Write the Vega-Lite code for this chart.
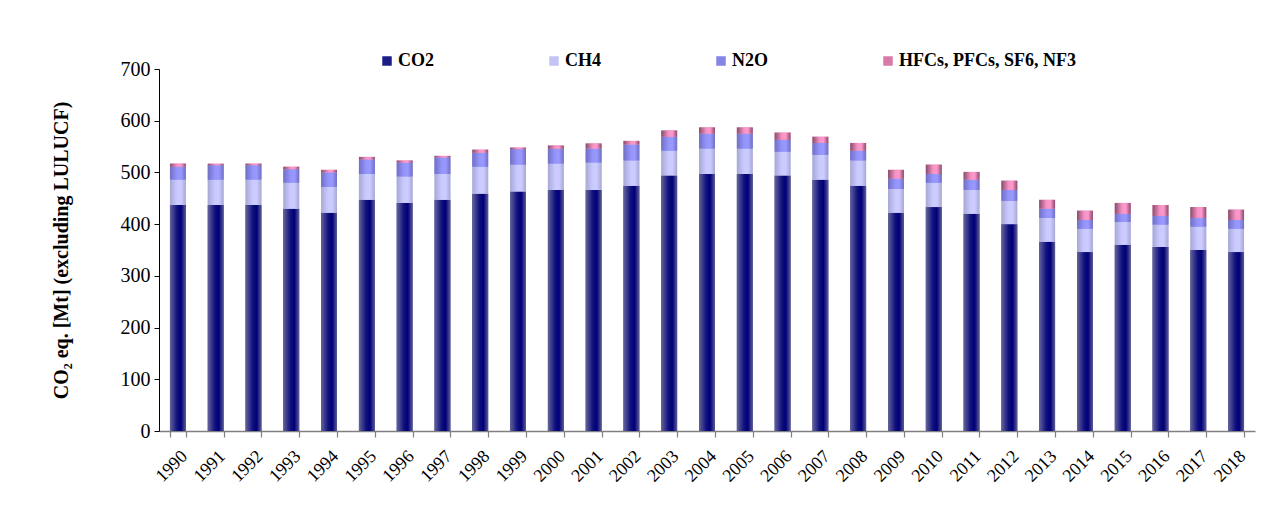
{
  "$schema": "https://vega.github.io/schema/vega-lite/v6.json",
  "autosize": "none",
  "width": 1096,
  "height": 362,
  "padding": {"left": 159, "top": 69, "right": 28, "bottom": 74},
  "background": "white",
  "config": {
    "view": {"stroke": null},
    "font": "Liberation Serif"
  },
  "data": {
    "values": [
      {"year":"1990","gas":"CO2","order":1,"value":437},{"year":"1990","gas":"CH4","order":2,"value":49},{"year":"1990","gas":"N2O","order":3,"value":25},{"year":"1990","gas":"HFCs, PFCs, SF6, NF3","order":4,"value":6},
      {"year":"1991","gas":"CO2","order":1,"value":437},{"year":"1991","gas":"CH4","order":2,"value":49},{"year":"1991","gas":"N2O","order":3,"value":28},{"year":"1991","gas":"HFCs, PFCs, SF6, NF3","order":4,"value":3},
      {"year":"1992","gas":"CO2","order":1,"value":437},{"year":"1992","gas":"CH4","order":2,"value":49},{"year":"1992","gas":"N2O","order":3,"value":28},{"year":"1992","gas":"HFCs, PFCs, SF6, NF3","order":4,"value":3},
      {"year":"1993","gas":"CO2","order":1,"value":430},{"year":"1993","gas":"CH4","order":2,"value":50},{"year":"1993","gas":"N2O","order":3,"value":26},{"year":"1993","gas":"HFCs, PFCs, SF6, NF3","order":4,"value":5},
      {"year":"1994","gas":"CO2","order":1,"value":422},{"year":"1994","gas":"CH4","order":2,"value":50},{"year":"1994","gas":"N2O","order":3,"value":28},{"year":"1994","gas":"HFCs, PFCs, SF6, NF3","order":4,"value":5},
      {"year":"1995","gas":"CO2","order":1,"value":447},{"year":"1995","gas":"CH4","order":2,"value":50},{"year":"1995","gas":"N2O","order":3,"value":28},{"year":"1995","gas":"HFCs, PFCs, SF6, NF3","order":4,"value":5},
      {"year":"1996","gas":"CO2","order":1,"value":441},{"year":"1996","gas":"CH4","order":2,"value":51},{"year":"1996","gas":"N2O","order":3,"value":27},{"year":"1996","gas":"HFCs, PFCs, SF6, NF3","order":4,"value":4},
      {"year":"1997","gas":"CO2","order":1,"value":447},{"year":"1997","gas":"CH4","order":2,"value":50},{"year":"1997","gas":"N2O","order":3,"value":32},{"year":"1997","gas":"HFCs, PFCs, SF6, NF3","order":4,"value":3},
      {"year":"1998","gas":"CO2","order":1,"value":459},{"year":"1998","gas":"CH4","order":2,"value":52},{"year":"1998","gas":"N2O","order":3,"value":27},{"year":"1998","gas":"HFCs, PFCs, SF6, NF3","order":4,"value":6},
      {"year":"1999","gas":"CO2","order":1,"value":463},{"year":"1999","gas":"CH4","order":2,"value":52},{"year":"1999","gas":"N2O","order":3,"value":30},{"year":"1999","gas":"HFCs, PFCs, SF6, NF3","order":4,"value":3},
      {"year":"2000","gas":"CO2","order":1,"value":466},{"year":"2000","gas":"CH4","order":2,"value":51},{"year":"2000","gas":"N2O","order":3,"value":29},{"year":"2000","gas":"HFCs, PFCs, SF6, NF3","order":4,"value":6},
      {"year":"2001","gas":"CO2","order":1,"value":466},{"year":"2001","gas":"CH4","order":2,"value":53},{"year":"2001","gas":"N2O","order":3,"value":27},{"year":"2001","gas":"HFCs, PFCs, SF6, NF3","order":4,"value":10},
      {"year":"2002","gas":"CO2","order":1,"value":474},{"year":"2002","gas":"CH4","order":2,"value":49},{"year":"2002","gas":"N2O","order":3,"value":31},{"year":"2002","gas":"HFCs, PFCs, SF6, NF3","order":4,"value":7},
      {"year":"2003","gas":"CO2","order":1,"value":494},{"year":"2003","gas":"CH4","order":2,"value":48},{"year":"2003","gas":"N2O","order":3,"value":27},{"year":"2003","gas":"HFCs, PFCs, SF6, NF3","order":4,"value":12},
      {"year":"2004","gas":"CO2","order":1,"value":497},{"year":"2004","gas":"CH4","order":2,"value":49},{"year":"2004","gas":"N2O","order":3,"value":29},{"year":"2004","gas":"HFCs, PFCs, SF6, NF3","order":4,"value":12},
      {"year":"2005","gas":"CO2","order":1,"value":497},{"year":"2005","gas":"CH4","order":2,"value":49},{"year":"2005","gas":"N2O","order":3,"value":29},{"year":"2005","gas":"HFCs, PFCs, SF6, NF3","order":4,"value":12},
      {"year":"2006","gas":"CO2","order":1,"value":494},{"year":"2006","gas":"CH4","order":2,"value":46},{"year":"2006","gas":"N2O","order":3,"value":23},{"year":"2006","gas":"HFCs, PFCs, SF6, NF3","order":4,"value":14},
      {"year":"2007","gas":"CO2","order":1,"value":486},{"year":"2007","gas":"CH4","order":2,"value":48},{"year":"2007","gas":"N2O","order":3,"value":23},{"year":"2007","gas":"HFCs, PFCs, SF6, NF3","order":4,"value":12},
      {"year":"2008","gas":"CO2","order":1,"value":474},{"year":"2008","gas":"CH4","order":2,"value":49},{"year":"2008","gas":"N2O","order":3,"value":19},{"year":"2008","gas":"HFCs, PFCs, SF6, NF3","order":4,"value":15},
      {"year":"2009","gas":"CO2","order":1,"value":422},{"year":"2009","gas":"CH4","order":2,"value":46},{"year":"2009","gas":"N2O","order":3,"value":20},{"year":"2009","gas":"HFCs, PFCs, SF6, NF3","order":4,"value":17},
      {"year":"2010","gas":"CO2","order":1,"value":433},{"year":"2010","gas":"CH4","order":2,"value":47},{"year":"2010","gas":"N2O","order":3,"value":17},{"year":"2010","gas":"HFCs, PFCs, SF6, NF3","order":4,"value":18},
      {"year":"2011","gas":"CO2","order":1,"value":420},{"year":"2011","gas":"CH4","order":2,"value":46},{"year":"2011","gas":"N2O","order":3,"value":20},{"year":"2011","gas":"HFCs, PFCs, SF6, NF3","order":4,"value":15},
      {"year":"2012","gas":"CO2","order":1,"value":400},{"year":"2012","gas":"CH4","order":2,"value":45},{"year":"2012","gas":"N2O","order":3,"value":21},{"year":"2012","gas":"HFCs, PFCs, SF6, NF3","order":4,"value":18},
      {"year":"2013","gas":"CO2","order":1,"value":366},{"year":"2013","gas":"CH4","order":2,"value":46},{"year":"2013","gas":"N2O","order":3,"value":18},{"year":"2013","gas":"HFCs, PFCs, SF6, NF3","order":4,"value":17},
      {"year":"2014","gas":"CO2","order":1,"value":346},{"year":"2014","gas":"CH4","order":2,"value":45},{"year":"2014","gas":"N2O","order":3,"value":17},{"year":"2014","gas":"HFCs, PFCs, SF6, NF3","order":4,"value":18},
      {"year":"2015","gas":"CO2","order":1,"value":360},{"year":"2015","gas":"CH4","order":2,"value":44},{"year":"2015","gas":"N2O","order":3,"value":16},{"year":"2015","gas":"HFCs, PFCs, SF6, NF3","order":4,"value":21},
      {"year":"2016","gas":"CO2","order":1,"value":356},{"year":"2016","gas":"CH4","order":2,"value":43},{"year":"2016","gas":"N2O","order":3,"value":17},{"year":"2016","gas":"HFCs, PFCs, SF6, NF3","order":4,"value":21},
      {"year":"2017","gas":"CO2","order":1,"value":350},{"year":"2017","gas":"CH4","order":2,"value":45},{"year":"2017","gas":"N2O","order":3,"value":17},{"year":"2017","gas":"HFCs, PFCs, SF6, NF3","order":4,"value":21},
      {"year":"2018","gas":"CO2","order":1,"value":346},{"year":"2018","gas":"CH4","order":2,"value":45},{"year":"2018","gas":"N2O","order":3,"value":17},{"year":"2018","gas":"HFCs, PFCs, SF6, NF3","order":4,"value":20}
    ]
  },
  "transform": [
    {"stack": "value", "groupby": ["year"], "sort": [{"field": "order", "order": "ascending"}], "as": ["v0", "v1"]}
  ],
  "encoding": {
    "x": {
      "field": "year", "type": "ordinal",
      "scale": {"paddingInner": 0.58, "paddingOuter": 0.29},
      "axis": {
        "title": null, "labelAngle": -45, "labelFont": "Liberation Serif", "labelFontSize": 18,
        "labelColor": "black", "labelPadding": 10, "tickBand": "extent", "tickSize": 6,
        "domainColor": "#808080", "tickColor": "#808080", "domainWidth": 1.5, "tickWidth": 1.2
      }
    },
    "y": {
      "field": "v1", "type": "quantitative",
      "scale": {"domain": [0, 700], "nice": false},
      "axis": {
        "title": "CO₂ eq. [Mt] (excluding LULUCF)", "titleFont": "Liberation Serif", "titleFontSize": 20,
        "titleFontWeight": "bold", "titleColor": "black", "titlePadding": 49,
        "values": [0, 100, 200, 300, 400, 500, 600, 700], "grid": false,
        "labelFont": "Liberation Serif", "labelFontSize": 20, "labelColor": "black",
        "domainColor": "black", "tickColor": "black", "tickSize": 5, "labelPadding": 4
      }
    },
    "y2": {"field": "v0"}
  },
  "layer": [
    {
      "mark": {"type": "bar"},
      "encoding": {
        "color": {
          "field": "gas", "type": "nominal",
          "scale": {
            "domain": ["CO2", "CH4", "N2O", "HFCs, PFCs, SF6, NF3"],
            "range": ["#1c1c84", "#c4c4f4", "#8484e4", "#d87aa8"]
          },
          "legend": {
            "title": null, "orient": "none", "direction": "horizontal", "legendX": 219, "legendY": -17,
            "symbolType": "square", "symbolSize": 90, "symbolStrokeWidth": 0, "labelFont": "Liberation Serif",
            "labelFontSize": 18, "labelFontWeight": "bold", "labelColor": "black", "labelOffset": 2,
            "columnPadding": 111, "gridAlign": "none", "labelLimit": 300, "padding": 0
          }
        }
      }
    },
    {
      "transform": [{"filter": "datum.gas === 'CO2'"}],
      "mark": {"type": "bar", "fill": {"gradient": "linear", "x1": 0, "x2": 1, "y1": 0, "y2": 0, "stops": [
        {"offset": 0, "color": "#64649a"}, {"offset": 0.45, "color": "#10107e"}, {"offset": 0.7, "color": "#000078"}, {"offset": 1, "color": "#5c5c94"}]}}
    },
    {
      "transform": [{"filter": "datum.gas === 'CH4'"}],
      "mark": {"type": "bar", "fill": {"gradient": "linear", "x1": 0, "x2": 1, "y1": 0, "y2": 0, "stops": [
        {"offset": 0, "color": "#a8a8d6"}, {"offset": 0.45, "color": "#cacaff"}, {"offset": 0.7, "color": "#ccccff"}, {"offset": 1, "color": "#a8a8d6"}]}}
    },
    {
      "transform": [{"filter": "datum.gas === 'N2O'"}],
      "mark": {"type": "bar", "fill": {"gradient": "linear", "x1": 0, "x2": 1, "y1": 0, "y2": 0, "stops": [
        {"offset": 0, "color": "#7070c4"}, {"offset": 0.45, "color": "#9494fc"}, {"offset": 0.7, "color": "#9999ff"}, {"offset": 1, "color": "#7070c4"}]}}
    },
    {
      "transform": [{"filter": "datum.gas === 'HFCs, PFCs, SF6, NF3'"}],
      "mark": {"type": "bar", "fill": {"gradient": "linear", "x1": 0, "x2": 1, "y1": 0, "y2": 0, "stops": [
        {"offset": 0, "color": "#8a4c6c"}, {"offset": 0.45, "color": "#f592c4"}, {"offset": 0.7, "color": "#ff99cc"}, {"offset": 1, "color": "#8a4c6c"}]}}
    }
  ]
}
